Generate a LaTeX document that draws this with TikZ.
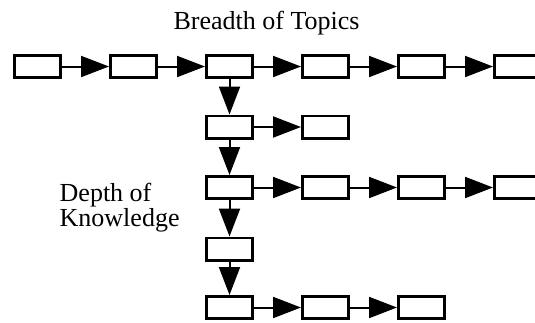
\documentclass[tikz,border=0pt]{standalone}
\usepackage{fontspec}
\setmainfont{Liberation Serif}
\usetikzlibrary{arrows.meta}

\begin{document}
\begin{tikzpicture}[x=1pt,y=1pt,
  cell/.style={draw=black, line width=2.8pt, fill=white, rectangle,
    minimum width=46.2pt, minimum height=22.2pt, inner sep=0pt},
  link/.style={line width=2pt, -{Triangle[length=28pt,width=21pt]}},
  caption/.style={font=\fontsize{26}{23}\selectfont, inner sep=0pt}]

  \useasboundingbox (0,0) rectangle (535,-322);
  \clip (0,0) rectangle (535,-322);

  % column centres and row centres
  \def\ca{37.5}\def\cb{133.5}\def\cc{229.5}\def\cd{325.5}\def\ce{421.5}\def\cf{517.5}
  \def\ra{-66.5}\def\rb{-127}\def\rc{-187.5}\def\rd{-249}\def\re{-307.5}

  % topic row
  \node[cell] (a1) at (\ca,\ra) {};
  \node[cell] (a2) at (\cb,\ra) {};
  \node[cell] (a3) at (\cc,\ra) {};
  \node[cell] (a4) at (\cd,\ra) {};
  \node[cell] (a5) at (\ce,\ra) {};
  \node[cell] (a6) at (\cf,\ra) {};

  % depth column and its branches
  \node[cell] (b3) at (\cc,\rb) {};
  \node[cell] (b4) at (\cd,\rb) {};

  \node[cell] (c3) at (\cc,\rc) {};
  \node[cell] (c4) at (\cd,\rc) {};
  \node[cell] (c5) at (\ce,\rc) {};
  \node[cell] (c6) at (\cf,\rc) {};

  \node[cell] (d3) at (\cc,\rd) {};

  \node[cell] (e3) at (\cc,\re) {};
  \node[cell] (e4) at (\cd,\re) {};
  \node[cell] (e5) at (\ce,\re) {};

  % horizontal links
  \draw[link] (a1) -- (a2);
  \draw[link] (a2) -- (a3);
  \draw[link] (a3) -- (a4);
  \draw[link] (a4) -- (a5);
  \draw[link] (a5) -- (a6);
  \draw[link] (b3) -- (b4);
  \draw[link] (c3) -- (c4);
  \draw[link] (c4) -- (c5);
  \draw[link] (c5) -- (c6);
  \draw[link] (e3) -- (e4);
  \draw[link] (e4) -- (e5);

  % vertical links
  \draw[link] (a3) -- (b3);
  \draw[link] (b3) -- (c3);
  \draw[link] (c3) -- (d3);
  \draw[link] (d3) -- (e3);

  % captions
  \node[caption, anchor=base] (breadth) at (266.5,-29.5) {Breadth of Topics};
  \node[caption, anchor=base west, align=left] (depth) at (59.5,-226) {Depth of\\Knowledge};
\end{tikzpicture}
\end{document}
